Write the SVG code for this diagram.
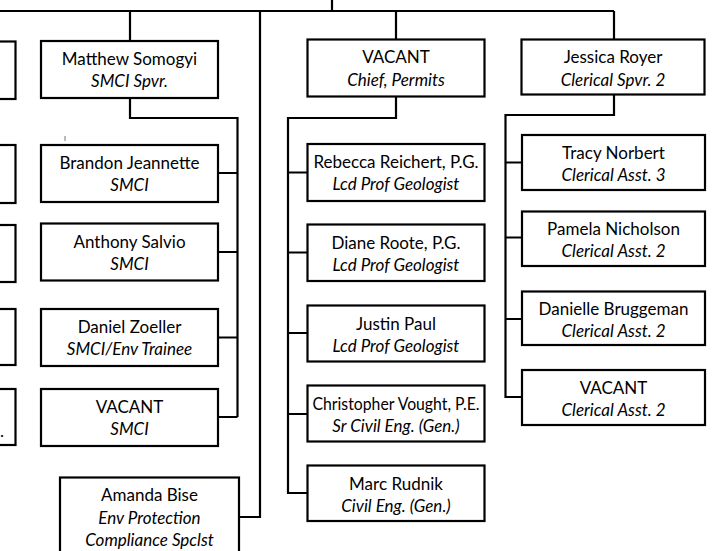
<svg xmlns="http://www.w3.org/2000/svg" width="718" height="551" viewBox="0 0 718 551">
<style>
  .box { fill: #ffffff; stroke: #000000; stroke-width: 2.2; }
  .ln { fill: none; stroke: #000000; stroke-width: 2.2; }
  text { font-family: Lato, "Liberation Sans", sans-serif; font-size: 17px; fill: #000000; text-anchor: middle; }
  .t { font-style: italic; }
</style>
<rect x="0" y="0" width="718" height="551" fill="#ffffff"/>
<g id="connectors">
  <path class="ln" d="M -5 11 H 614 M 332 0 V 11"/>
  <path class="ln" d="M 130 11 V 41 M 130 98 V 118 H 237.5 V 417 M 237.5 173 H 218 M 237.5 252 H 218 M 237.5 337.5 H 218 M 237.5 417 H 218"/>
  <path class="ln" d="M 260 11 V 517 H 239"/>
  <path class="ln" d="M 396 11 V 39.5 M 396 96.5 V 118 H 288 V 493 H 307.5 M 288 172.5 H 307.5 M 288 252.5 H 307.5 M 288 333 H 307.5 M 288 414 H 307.5"/>
  <path class="ln" d="M 614 11 V 39.5 M 614 94.5 V 115 H 505.5 V 397 H 522 M 505.5 162.5 H 522 M 505.5 237.5 H 522 M 505.5 319 H 522"/>
  <line x1="65" y1="136" x2="65" y2="141" stroke="#777777" stroke-width="1"/>
</g>
<g id="left-cut">
  <rect class="box" x="-100" y="41.5" width="115.5" height="57.5"/>
  <rect class="box" x="-100" y="145" width="115.5" height="58"/>
  <rect class="box" x="-100" y="225" width="115.5" height="57"/>
  <rect class="box" x="-100" y="309" width="115.5" height="56"/>
  <rect class="box" x="-100" y="389" width="115.5" height="56"/>
  <text x="2" y="437">.</text>
</g>
<g id="matthew-somogyi">
  <rect class="box" x="41" y="41" width="177" height="57"/>
  <text x="129.5" y="65">Matthew Somogyi</text>
  <text class="t" x="129.5" y="87">SMCI Spvr.</text>
</g>
<g id="brandon-jeannette">
  <rect class="box" x="41" y="145" width="177" height="57"/>
  <text x="129.5" y="169">Brandon Jeannette</text>
  <text class="t" x="129.5" y="191">SMCI</text>
</g>
<g id="anthony-salvio">
  <rect class="box" x="41" y="223.5" width="177" height="57"/>
  <text x="129.5" y="247.5">Anthony Salvio</text>
  <text class="t" x="129.5" y="269.5">SMCI</text>
</g>
<g id="daniel-zoeller">
  <rect class="box" x="41" y="309" width="177" height="57"/>
  <text x="129.5" y="333">Daniel Zoeller</text>
  <text class="t" x="129.5" y="355">SMCI/Env Trainee</text>
</g>
<g id="vacant-smci">
  <rect class="box" x="41" y="389" width="177" height="57"/>
  <text x="129.5" y="413">VACANT</text>
  <text class="t" x="129.5" y="435">SMCI</text>
</g>
<g id="amanda-bise">
  <rect class="box" x="60" y="477.5" width="179" height="90"/>
  <text x="149.5" y="501">Amanda Bise</text>
  <text class="t" x="149.5" y="523.5">Env Protection</text>
  <text class="t" x="149.5" y="546">Compliance Spclst</text>
</g>
<g id="vacant-chief-permits">
  <rect class="box" x="307.5" y="39.5" width="177" height="57"/>
  <text x="396" y="63">VACANT</text>
  <text class="t" x="396" y="85.5">Chief, Permits</text>
</g>
<g id="rebecca-reichert">
  <rect class="box" x="307.5" y="144" width="177" height="57"/>
  <text x="396" y="168">Rebecca Reichert, P.G.</text>
  <text class="t" x="396" y="190">Lcd Prof Geologist</text>
</g>
<g id="diane-roote">
  <rect class="box" x="307.5" y="224.5" width="177" height="56.5"/>
  <text x="396" y="248.5">Diane Roote, P.G.</text>
  <text class="t" x="396" y="270.5">Lcd Prof Geologist</text>
</g>
<g id="justin-paul">
  <rect class="box" x="307.5" y="305.5" width="177" height="56"/>
  <text x="396" y="329.5">Justin Paul</text>
  <text class="t" x="396" y="351.5">Lcd Prof Geologist</text>
</g>
<g id="christopher-vought">
  <rect class="box" x="307.5" y="385.5" width="177" height="56"/>
  <text x="396" y="409.5" textLength="167" lengthAdjust="spacingAndGlyphs">Christopher Vought, P.E.</text>
  <text class="t" x="396" y="431.5">Sr Civil Eng. (Gen.)</text>
</g>
<g id="marc-rudnik">
  <rect class="box" x="307.5" y="465.5" width="177" height="55.5"/>
  <text x="396" y="489.5">Marc Rudnik</text>
  <text class="t" x="396" y="511.5">Civil Eng. (Gen.)</text>
</g>
<g id="jessica-royer">
  <rect class="box" x="521.5" y="39.5" width="183" height="55"/>
  <text x="613" y="63">Jessica Royer</text>
  <text class="t" x="613" y="85.5">Clerical Spvr. 2</text>
</g>
<g id="tracy-norbert">
  <rect class="box" x="522" y="135" width="183" height="55"/>
  <text x="613.5" y="158.5">Tracy Norbert</text>
  <text class="t" x="613.5" y="180.5">Clerical Asst. 3</text>
</g>
<g id="pamela-nicholson">
  <rect class="box" x="522" y="211.5" width="183" height="54.5"/>
  <text x="613.5" y="235">Pamela Nicholson</text>
  <text class="t" x="613.5" y="257">Clerical Asst. 2</text>
</g>
<g id="danielle-bruggeman">
  <rect class="box" x="522" y="291.5" width="183" height="53.5"/>
  <text x="613.5" y="315">Danielle Bruggeman</text>
  <text class="t" x="613.5" y="337">Clerical Asst. 2</text>
</g>
<g id="vacant-clerical">
  <rect class="box" x="522" y="370" width="183" height="55"/>
  <text x="613.5" y="393.5">VACANT</text>
  <text class="t" x="613.5" y="415.5">Clerical Asst. 2</text>
</g>
</svg>
